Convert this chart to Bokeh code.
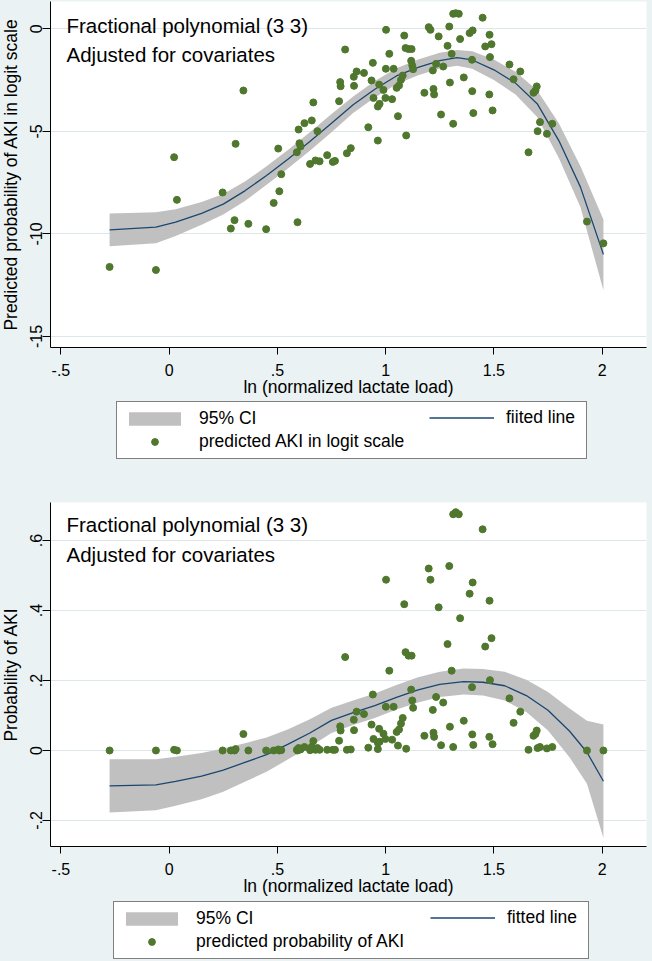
from bokeh.plotting import figure
from bokeh.models import Range1d, FixedTicker, Legend, LegendItem, Label
from bokeh.layouts import column
from bokeh.embed import file_html
from bokeh.resources import INLINE

# ---------------- data ----------------
lactate_ln = [-0.275, -0.061, 0.023, 0.036, 0.247, 0.285, 0.302, 0.307, 0.343, 0.366,
              0.448, 0.483, 0.504, 0.509, 0.518, 0.590, 0.593, 0.598, 0.602, 0.607,
              0.625, 0.651, 0.659, 0.666, 0.676, 0.685, 0.695, 0.730, 0.756, 0.766,
              0.785, 0.790, 0.792, 0.813, 0.821, 0.839, 0.853, 0.854, 0.866, 0.900,
              0.920, 0.935, 0.941, 0.944, 0.964, 0.964, 0.970, 0.972, 0.990, 0.999,
              1.001, 1.002, 1.017, 1.030, 1.037, 1.051, 1.057, 1.062, 1.071, 1.079,
              1.086, 1.092, 1.095, 1.106, 1.118, 1.120, 1.123, 1.127, 1.179, 1.199,
              1.207, 1.218, 1.221, 1.224, 1.233, 1.245, 1.256, 1.266, 1.286, 1.294,
              1.297, 1.305, 1.312, 1.312, 1.324, 1.338, 1.344, 1.361, 1.388, 1.399,
              1.400, 1.402, 1.405, 1.448, 1.460, 1.479, 1.480, 1.482, 1.489, 1.494,
              1.572, 1.591, 1.622, 1.660, 1.683, 1.692, 1.698, 1.702, 1.713, 1.745,
              1.770, 1.930, 2.006]

aki_logit = [-11.61, -11.76, -6.26, -8.34, -7.98, -9.74, -9.33, -5.61, -3.01, -9.51,
             -9.77, -8.49, -5.84, -7.92, -7.09, -6.02, -9.43, -4.91, -5.58, -5.74,
             -4.60, -6.59, -4.47, -3.59, -6.42, -4.99, -6.46, -6.16, -6.49, -6.44,
             -3.53, -2.60, -2.80, -1.01, -6.07, -5.82, -2.34, -2.78, -2.08, -2.15,
             -4.80, -2.52, -1.66, -3.37, -5.45, -3.79, -2.72, -3.66, -2.98, -3.37,
             -1.95, -0.05, -1.22, -3.43, -1.95, -2.88, -4.26, -2.76, -2.49, -2.28,
             -0.33, -0.94, -5.20, -0.99, -1.56, -0.99, -1.79, -1.97, -3.12, 0.08,
             -0.05, -2.03, -2.93, -3.20, -1.71, -0.37, -4.18, -1.84, -0.83, 0.11,
             -2.62, -1.22, -4.63, 0.73, 0.76, 0.73, -0.50, -2.37, -0.21, -1.51,
             -3.04, -0.08, -4.11, 0.54, -0.86, -3.20, -0.29, -1.38, -0.75, -3.98,
             -1.74, -2.46, -2.08, -6.02, -3.12, -3.01, -2.81, -4.99, -4.55, -5.12,
             -4.63, -9.40, -10.46]

aki_prob = [0.000, 0.000, 0.002, 0.000, 0.000, 0.000, 0.000, 0.004, 0.047, 0.000,
            0.000, 0.000, 0.003, 0.000, 0.001, 0.002, 0.000, 0.007, 0.004, 0.003,
            0.010, 0.001, 0.011, 0.027, 0.002, 0.007, 0.002, 0.002, 0.002, 0.002,
            0.028, 0.069, 0.057, 0.267, 0.002, 0.003, 0.088, 0.058, 0.111, 0.104,
            0.008, 0.074, 0.160, 0.033, 0.004, 0.022, 0.062, 0.025, 0.048, 0.033,
            0.125, 0.488, 0.228, 0.031, 0.125, 0.053, 0.014, 0.060, 0.077, 0.093,
            0.418, 0.281, 0.005, 0.271, 0.174, 0.271, 0.143, 0.122, 0.042, 0.520,
            0.488, 0.116, 0.051, 0.039, 0.153, 0.409, 0.015, 0.137, 0.304, 0.527,
            0.068, 0.228, 0.010, 0.675, 0.681, 0.675, 0.378, 0.085, 0.448, 0.181,
            0.046, 0.480, 0.016, 0.632, 0.297, 0.039, 0.428, 0.201, 0.321, 0.018,
            0.149, 0.079, 0.111, 0.002, 0.042, 0.047, 0.057, 0.007, 0.010, 0.006,
            0.010, 0.000, 0.000]

# fitted fractional polynomial, logit scale (top)
fit_x_logit = [-0.275, -0.061, 0.03, 0.15, 0.25, 0.35, 0.45, 0.55, 0.65, 0.75, 0.85, 0.95,
               1.05, 1.15, 1.25, 1.33, 1.40, 1.50, 1.60, 1.70, 1.80, 1.90, 2.006]
fit_logit = [-9.80, -9.67, -9.43, -9.00, -8.55, -7.90, -7.15, -6.35, -5.50, -4.60, -3.70, -2.95,
             -2.30, -1.88, -1.55, -1.41, -1.52, -2.00, -2.65, -3.65, -5.45, -7.72, -11.00]
ci_hi_logit = [-9.00, -8.95, -8.80, -8.45, -8.05, -7.45, -6.70, -5.90, -5.05, -4.15, -3.30, -2.55,
               -1.92, -1.50, -1.17, -1.03, -1.10, -1.50, -2.10, -3.00, -4.60, -6.70, -9.30]
ci_lo_logit = [-10.60, -10.45, -10.10, -9.55, -9.05, -8.40, -7.60, -6.80, -5.95, -5.05, -4.10, -3.35,
               -2.70, -2.26, -1.93, -1.80, -1.95, -2.50, -3.20, -4.30, -6.30, -8.70, -12.75]

# fitted fractional polynomial, probability scale (bottom)
fit_x_prob = [-0.275, -0.061, 0.03, 0.15, 0.25, 0.35, 0.45, 0.55, 0.65, 0.75, 0.85, 0.95,
              1.05, 1.15, 1.25, 1.36, 1.45, 1.55, 1.65, 1.75, 1.85, 1.93, 2.006]
fit_prob = [-0.101, -0.098, -0.088, -0.073, -0.056, -0.034, -0.012, 0.018, 0.050, 0.086, 0.108, 0.128,
            0.152, 0.173, 0.189, 0.197, 0.195, 0.185, 0.157, 0.115, 0.055, -0.005, -0.088]
ci_hi_prob = [-0.025, -0.025, -0.018, -0.007, 0.006, 0.021, 0.037, 0.061, 0.089, 0.122, 0.143, 0.163,
              0.187, 0.209, 0.225, 0.234, 0.233, 0.225, 0.202, 0.167, 0.120, 0.085, 0.074]
ci_lo_prob = [-0.177, -0.171, -0.158, -0.139, -0.118, -0.089, -0.061, -0.025, 0.011, 0.050, 0.073, 0.093,
              0.117, 0.137, 0.153, 0.160, 0.157, 0.143, 0.110, 0.057, -0.020, -0.095, -0.250]

x_ticks = [-0.5, 0, 0.5, 1, 1.5, 2]
x_tick_labels = ["-.5", "0", ".5", "1", "1.5", "2"]
y_ticks_logit = [0, -5, -10, -15]
y_tick_labels_logit = ["0", "-5", "-10", "-15"]
y_ticks_prob = [0.6, 0.4, 0.2, 0, -0.2]
y_tick_labels_prob = [".6", ".4", ".2", "0", "-.2"]

# ---------------- style ----------------
BG = "#EAF2F3"
FONT = "Liberation Sans"
GREEN = "#4F772D"
BAND = "#C0C0C0"
NAVY = "#1A476F"
W = 656          # drawn 4px wider and pulled left by 4px (unused axis-title padding)
SHIFT = (0, 0, 0, -4)
LEFT = 54

BAND_STYLE = dict(fill_color=BAND, fill_alpha=1.0)
LINE_STYLE = dict(line_color=NAVY, line_width=1.3)
DOT_STYLE = dict(marker="circle", fill_color=GREEN, line_color=GREEN)


def make_chart(height, b_top, b_bottom, y0, y1, yticks, ylabels, ytitle,
               ann_y1, ann_y2, fx, fy, lo, hi, py):
    p = figure(width=W, height=height, output_backend="svg", toolbar_location=None,
               x_range=Range1d(-0.548, 2.205), y_range=Range1d(y0, y1),
               min_border_left=LEFT, min_border_right=2,
               min_border_top=b_top, min_border_bottom=b_bottom, margin=SHIFT)
    p.background_fill_color = "white"
    p.border_fill_color = BG
    p.outline_line_color = None

    p.varea(x=fx, y1=lo, y2=hi, **BAND_STYLE)
    p.line(x=fx, y=fy, **LINE_STYLE)
    p.scatter(x=lactate_ln, y=py, size=7, **DOT_STYLE)

    p.xgrid.visible = False
    p.ygrid.ticker = FixedTicker(ticks=yticks)
    p.ygrid.grid_line_color = "#DDE7EA"
    p.ygrid.grid_line_width = 1

    xa = p.xaxis[0]
    xa.ticker = FixedTicker(ticks=x_ticks)
    xa.major_label_overrides = dict(zip(x_ticks, x_tick_labels))
    xa.axis_label = "ln (normalized lactate load)"
    ya = p.yaxis[0]
    ya.ticker = FixedTicker(ticks=yticks)
    ya.major_label_overrides = dict(zip(yticks, ylabels))
    ya.axis_label = ytitle
    ya.major_label_orientation = "vertical"
    for ax in (xa, ya):
        ax.axis_line_color = "black"
        ax.axis_line_width = 1
        ax.major_tick_line_color = "black"
        ax.major_tick_in = 0
        ax.minor_tick_in = 0
        ax.minor_tick_out = 0
        ax.major_label_text_font = FONT
        ax.major_label_text_font_size = "16px"
        ax.major_label_text_color = "black"
        ax.axis_label_text_font = FONT
        ax.axis_label_text_font_size = "17.5px"
        ax.axis_label_text_font_style = "normal"
        ax.axis_label_text_color = "black"
    xa.major_tick_out = 7
    xa.major_label_standoff = 9
    xa.axis_label_standoff = -2
    ya.major_tick_out = 8
    ya.major_label_standoff = 0
    ya.axis_label_standoff = 7

    for yy, txt in ((ann_y1, "Fractional polynomial (3 3)"), (ann_y2, "Adjusted for covariates")):
        p.add_layout(Label(x=-0.474, y=yy, text=txt, text_font=FONT,
                           text_font_size="20.5px", text_baseline="middle",
                           text_align="left", text_color="black"))
    return p


def make_legend(height, labels, box, line_pos, fx, fy, lo, hi, py):
    """Legend strip: Bokeh Legend objects keyed to hidden copies of the chart's renderers."""
    lg = figure(width=W, height=height, output_backend="svg", toolbar_location=None,
                x_range=Range1d(-0.548, 2.205), y_range=Range1d(0, 1),
                x_axis_type=None, y_axis_type=None,
                min_border_left=LEFT, min_border_right=2,
                min_border_top=0, min_border_bottom=0, margin=SHIFT)
    lg.background_fill_color = BG
    lg.border_fill_color = BG
    lg.outline_line_color = None
    lg.xgrid.visible = False
    lg.ygrid.visible = False
    band = lg.varea(x=fx, y1=lo, y2=hi, visible=False, **BAND_STYLE)
    dots = lg.scatter(x=lactate_ln, y=py, size=7, visible=False, **DOT_STYLE)
    line = lg.line(x=fx, y=fy, visible=False, **LINE_STYLE)

    common = dict(label_text_font=FONT, label_text_font_size="17.5px",
                  label_text_color="black", glyph_width=65, glyph_height=17,
                  label_height=23, label_standoff=12, padding=5, spacing=0,
                  margin=0, inactive_fill_alpha=0.0)
    bx, by, bw = box
    leg1 = Legend(items=[LegendItem(label=labels[0], renderers=[band]),
                         LegendItem(label=labels[1], renderers=[dots])],
                  location=(bx, by), label_width=bw,
                  border_line_color="black", border_line_width=1,
                  background_fill_color="white", background_fill_alpha=1.0, **common)
    leg2 = Legend(items=[LegendItem(label=labels[2], renderers=[line])],
                  location=line_pos, label_width=20,
                  border_line_color=None, background_fill_alpha=0.0, **common)
    lg.add_layout(leg1, "center")
    lg.add_layout(leg2, "center")
    return lg


top = make_chart(400, 1, 53, -15.539, 1.331, y_ticks_logit, y_tick_labels_logit,
                 "Predicted probability of AKI in logit scale", 0.185, -1.277,
                 fit_x_logit, fit_logit, ci_lo_logit, ci_hi_logit, aki_logit)
top_legend = make_legend(80, ["95% CI", "predicted AKI in logit scale", "fiited line"],
                         (66, 21, 382), (379, 51),
                         fit_x_logit, fit_logit, ci_lo_logit, ci_hi_logit, aki_logit)

bottom = make_chart(420, 22, 54, -0.2743, 0.7086, y_ticks_prob, y_tick_labels_prob,
                    "Probability of AKI", 0.647, 0.561,
                    fit_x_prob, fit_prob, ci_lo_prob, ci_hi_prob, aki_prob)
bottom_legend = make_legend(61, ["95% CI", "predicted probability of AKI", "fitted line"],
                            (63, 2, 387), (380, 32),
                            fit_x_prob, fit_prob, ci_lo_prob, ci_hi_prob, aki_prob)

layout = column(top, top_legend, bottom, bottom_legend, spacing=0)
layout.background = BG

open("out.html", "w").write(file_html(layout, INLINE))
